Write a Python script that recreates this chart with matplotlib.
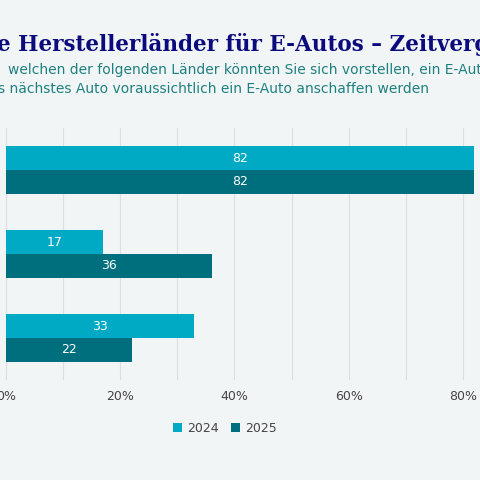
import matplotlib.pyplot as plt
import numpy as np

groups = ['A', 'B', 'C']
values_2024 = [82, 17, 33]
values_2025 = [82, 36, 22]
years = ['2024', '2025']
ticks = [0, 20, 40, 60, 80]

bg = '#f2f5f5'
c2024 = '#00a9c4'
c2025 = '#006f7d'

fig = plt.figure(figsize=(4.8, 4.8), dpi=100, facecolor=bg)
ax = fig.add_axes([0, 1 - 380 / 480, 1, (380 - 128) / 480])
ax.set_facecolor(bg)

y = np.arange(len(groups))
h = 0.28
b1 = ax.barh(y - h / 2, values_2024, height=h, color=c2024, label=years[0])
b2 = ax.barh(y + h / 2, values_2025, height=h, color=c2025, label=years[1])
for bars in (b1, b2):
    for bar in bars:
        w = bar.get_width()
        ax.text(w / 2, bar.get_y() + bar.get_height() / 2, f'{w:.0f}',
                ha='center', va='center', color='white', fontsize=9)

ax.set_xlim(-1.05, 83)
ax.set_ylim(2.5, -0.5)
ax.set_xticks(np.arange(0, 90, 10))
ax.grid(axis='x', color='#dcdfe0', linewidth=0.8)
ax.set_axisbelow(True)
ax.set_yticks([])
ax.set_xticklabels([])
ax.tick_params(axis='x', length=0)
for s in ax.spines.values():
    s.set_visible(False)
for t in ticks:
    ax.text(t, 2.5 + 0.2, f'{t}%', ha='center', va='center', fontsize=9,
            color='#444444', clip_on=False)

fig.text(-3 / 480, 1 - 45 / 480, 'e Herstellerländer für E-Autos – Zeitvergleich',
         fontsize=15.5, fontweight='bold', family='DejaVu Serif', color='#0b0b7e',
         va='center', ha='left')
fig.text(8 / 480, 1 - 70 / 480,
         'welchen der folgenden Länder könnten Sie sich vorstellen, ein E-Auto zu kaufen',
         fontsize=10, color='#1f8080', va='center', ha='left')
fig.text(-2 / 480, 1 - 89 / 480,
         's nächstes Auto voraussichtlich ein E-Auto anschaffen werden',
         fontsize=10, color='#1f8080', va='center', ha='left')

fig.legend(handles=[b1, b2], labels=years, loc='center', bbox_to_anchor=(225 / 480, 1 - 428 / 480),
           ncol=2, frameon=False, fontsize=9, handlelength=0.7, handleheight=0.7,
           columnspacing=1.0, handletextpad=0.4, labelcolor='#444444')

fig.savefig('out.png', dpi=100, facecolor=bg)
